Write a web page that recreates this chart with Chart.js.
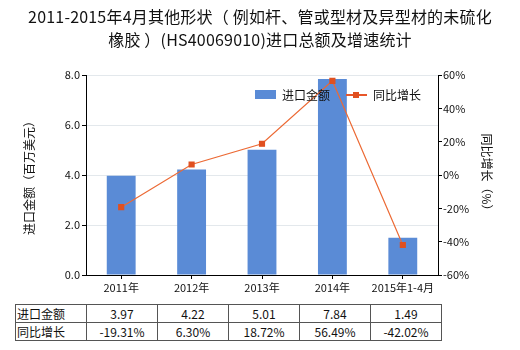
<!DOCTYPE html>
<html>
<head>
<meta charset="utf-8">
<script src="https://cdn.jsdelivr.net/npm/chart.js@4.4.0/dist/chart.umd.min.js"></script>
<style>
  body { margin: 0; background: #fff; font-family: "Noto Sans CJK SC", sans-serif; }
  #wrap { position: relative; width: 520px; height: 350px; }
  #title { position: absolute; left: 0; top: 5px; width: 520px; text-align: center;
           font-size: 16px; line-height: 23px; color: #111; letter-spacing: 0.2px; }
  #legend { position: absolute; top: 84px; left: 255px; font-size: 12px; color: #111; }
  #legend span { display: inline-block; vertical-align: middle; }
  .sw-bar { width: 21px; height: 9px; background: #5a8bd6; margin-right: 6px; }
  .sw-line { width: 21px; height: 2px; background: #e8572a; position: relative; margin: 0 6px 0 16px; }
  .sw-line i { position: absolute; left: 7px; top: -2px; width: 6px; height: 6px; background: #e05020; }
  #tbl { position: absolute; left: 15px; top: 304px; border-collapse: collapse; font-size: 12px; color: #111; }
  #tbl td { border: 1px solid #555; height: 16px; padding: 0; text-align: center; width: 70px; }
  #tbl td.h { text-align: left; padding-left: 1px; width: 69px; }
</style>
</head>
<body>
<div id="wrap">
  <canvas id="chart" width="520" height="300"></canvas>
  <div id="title">2011-2015年4月其他形状（ 例如杆、管或型材及异型材的未硫化<br>橡胶 ）(HS40069010)进口总额及增速统计</div>
  <div id="legend"><span class="sw-bar"></span><span>进口金额</span><span class="sw-line"><i></i></span><span>同比增长</span></div>
  <table id="tbl"></table>
</div>
<script>
// categories and series
const categories = ['2011年', '2012年', '2013年', '2014年', '2015年1-4月'];
const importValues = [3.97, 4.22, 5.01, 7.84, 1.49];      // 百万美元
const growthRates = [-19.31, 6.30, 18.72, 56.49, -42.02]; // %

const labelFont = { family: '"Noto Sans CJK SC", sans-serif', size: 11 };
const axisTitleFont = { family: '"Noto Sans CJK SC", sans-serif', size: 12 };

// data table under the chart
const tbl = document.getElementById('tbl');
function addRow(name, values) {
    const tr = document.createElement('tr');
    tr.innerHTML = '<td class="h">' + name + '</td>' + values.map(v => '<td>' + v + '</td>').join('');
    tbl.appendChild(tr);
}
addRow('进口金额', importValues.map(v => v.toFixed(2)));
addRow('同比增长', growthRates.map(v => v.toFixed(2) + '%'));

const ctx = document.getElementById('chart').getContext('2d');
new Chart(ctx, {
    data: {
        labels: categories,
        datasets: [{
            type: 'line',
            label: '同比增长',
            data: growthRates,
            yAxisID: 'y1',
            borderColor: '#ec6a35',
            borderWidth: 1.2,
            pointStyle: 'rect',
            pointRadius: 3.5,
            pointBackgroundColor: '#e05020',
            pointBorderColor: '#e05020',
            tension: 0,
            order: 0
        }, {
            type: 'bar',
            label: '进口金额',
            data: importValues,
            yAxisID: 'y',
            backgroundColor: '#5a8bd6',
            barPercentage: 0.41,
            categoryPercentage: 1,
            order: 1
        }]
    },
    options: {
        responsive: false,
        animation: false,
        layout: { padding: { left: 0, right: 0, top: 75, bottom: 0 } },
        plugins: {
            legend: { display: false },
            tooltip: { enabled: false }
        },
        scales: {
            x: {
                afterFit: s => { s.height = 25; },
                grid: { offset: false, drawOnChartArea: false, tickLength: 4, tickColor: '#000' },
                border: { color: '#000', width: 1 },
                ticks: { color: '#111', font: labelFont, maxRotation: 0, padding: 2 }
            },
            y: {
                position: 'left',
                min: 0, max: 8,
                afterFit: s => { s.width = 86; },
                grid: { color: '#e3e8ec', tickColor: '#000', tickLength: 4 },
                border: { color: '#000', width: 1 },
                ticks: { stepSize: 2, color: '#111', font: labelFont, padding: 2,
                         callback: v => v.toFixed(1) },
                title: { display: true, text: '进口金额（百万美元）', color: '#111',
                         font: axisTitleFont, padding: { top: 22, bottom: 0 } }
            },
            y1: {
                position: 'right',
                min: -60, max: 60,
                afterFit: s => { s.width = 82; },
                grid: { drawOnChartArea: false, tickColor: '#000', tickLength: 4 },
                border: { color: '#000', width: 1 },
                ticks: { stepSize: 20, color: '#111', font: labelFont, padding: 1,
                         callback: v => v + '%' },
                title: { display: true, text: '同比增长（%）', color: '#111',
                         font: axisTitleFont, padding: { top: 26, bottom: 0 } }
            }
        }
    }
});
</script>
</body>
</html>
